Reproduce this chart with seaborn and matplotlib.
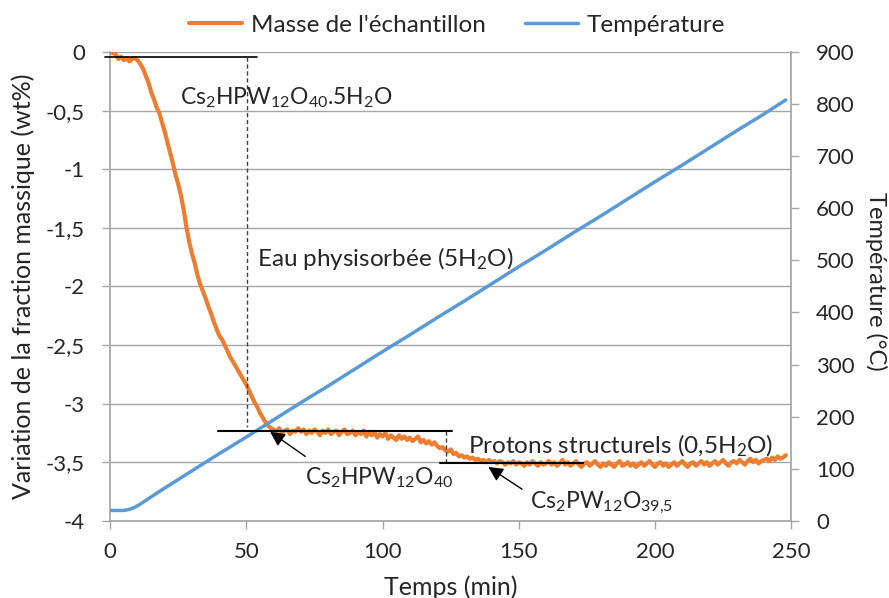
# Analyse thermogravimetrique - Cs2HPW12O40.5H2O
import numpy as np
import pandas as pd
import matplotlib
matplotlib.use("Agg")
import matplotlib.pyplot as plt
import seaborn as sns

# Donnees
temps_masse = list(range(0, 249))
masse = [
    0.00, -0.01, -0.02, -0.06, -0.04, -0.07, -0.05, -0.08, -0.06, -0.05,
    -0.07, -0.10, -0.14, -0.20, -0.26, -0.34, -0.40, -0.47, -0.52, -0.60,
    -0.68, -0.77, -0.86, -0.95, -1.05, -1.13, -1.23, -1.35, -1.50, -1.62,
    -1.72, -1.80, -1.90, -1.98, -2.04, -2.10, -2.17, -2.23, -2.30, -2.36,
    -2.42, -2.45, -2.50, -2.55, -2.60, -2.64, -2.68, -2.72, -2.76, -2.80,
    -2.84, -2.89, -2.94, -2.99, -3.03, -3.08, -3.12, -3.16, -3.19, -3.21,
    -3.22, -3.24, -3.21, -3.25, -3.23, -3.22, -3.26, -3.23, -3.24, -3.21,
    -3.24, -3.22, -3.26, -3.23, -3.25, -3.22, -3.24, -3.27, -3.23, -3.25,
    -3.22, -3.26, -3.24, -3.23, -3.27, -3.24, -3.22, -3.26, -3.25, -3.23,
    -3.27, -3.24, -3.26, -3.23, -3.28, -3.25, -3.27, -3.24, -3.29, -3.26,
    -3.28, -3.25, -3.30, -3.27, -3.29, -3.31, -3.27, -3.30, -3.28, -3.31,
    -3.29, -3.32, -3.30, -3.28, -3.33, -3.31, -3.34, -3.32, -3.35, -3.33,
    -3.36, -3.38, -3.37, -3.40, -3.41, -3.39, -3.43, -3.42, -3.45, -3.44,
    -3.46, -3.45, -3.47, -3.46, -3.48, -3.47, -3.49, -3.48, -3.50, -3.48,
    -3.50, -3.49, -3.51, -3.49, -3.50, -3.52, -3.50, -3.51, -3.49, -3.52,
    -3.50, -3.51, -3.53, -3.50, -3.52, -3.49, -3.51, -3.53, -3.50, -3.52,
    -3.51, -3.49, -3.52, -3.50, -3.53, -3.51, -3.48, -3.52, -3.50, -3.53,
    -3.51, -3.49, -3.52, -3.54, -3.51, -3.50, -3.53, -3.51, -3.49, -3.52,
    -3.54, -3.51, -3.53, -3.50, -3.52, -3.54, -3.51, -3.49, -3.53, -3.52,
    -3.50, -3.53, -3.51, -3.54, -3.52, -3.50, -3.53, -3.51, -3.49, -3.52,
    -3.54, -3.51, -3.50, -3.53, -3.51, -3.54, -3.52, -3.50, -3.53, -3.51,
    -3.49, -3.52, -3.54, -3.51, -3.50, -3.53, -3.51, -3.49, -3.52, -3.50,
    -3.53, -3.51, -3.49, -3.52, -3.50, -3.48, -3.51, -3.53, -3.50, -3.49,
    -3.51, -3.48, -3.50, -3.52, -3.49, -3.47, -3.50, -3.48, -3.51, -3.49,
    -3.48, -3.47, -3.49, -3.46, -3.48, -3.45, -3.47, -3.46, -3.44,
]

temps_temp = [0, 5, 7, 9, 11, 13, 15, 20, 30, 40, 50, 60, 70, 80, 90, 100,
              110, 120, 130, 140, 150, 160, 170, 180, 190, 200, 210, 220,
              230, 240, 248]
temperature = [20, 20, 22, 26, 32, 39, 46, 63, 96, 129, 161, 194, 227, 259,
               292, 325, 357, 390, 422, 455, 488, 520, 553, 585, 618, 651,
               683, 716, 749, 781, 808]

yticks_masse = [0, -0.5, -1, -1.5, -2, -2.5, -3, -3.5, -4]
ylabels_masse = ["0", "-0,5", "-1", "-1,5", "-2", "-2,5", "-3", "-3,5", "-4"]
xticks_temps = [0, 50, 100, 150, 200, 250]
yticks_temp = [0, 100, 200, 300, 400, 500, 600, 700, 800, 900]

df_masse = pd.DataFrame({"Temps": temps_masse, "Masse": masse})
df_temp = pd.DataFrame({"Temps": temps_temp, "Temperature": temperature})

sns.set_theme(style="white")
plt.rcParams["font.family"] = ["Lato", "DejaVu Sans"]
plt.rcParams["mathtext.fontset"] = "custom"
plt.rcParams["mathtext.rm"] = "Lato"
plt.rcParams["mathtext.it"] = "Lato"

orange = "#ED7D31"
bleu = "#5B9BD5"
gris = "#A6A6A6"
texte = "#262626"

fig, ax = plt.subplots(figsize=(8.89, 5.98), dpi=100)
fig.subplots_adjust(left=0.124, right=0.890, top=0.913, bottom=0.129)
ax2 = ax.twinx()

sns.lineplot(data=df_masse, x="Temps", y="Masse", ax=ax, color=orange,
             linewidth=3, label="Masse de l'échantillon", legend=False)
sns.lineplot(data=df_temp, x="Temps", y="Temperature", ax=ax2, color=bleu,
             linewidth=2.5, label="Température", legend=False)

ax.set_xlim(0, 250)
ax.set_ylim(-4, 0)
ax2.set_ylim(0, 900)
ax.set_xticks(xticks_temps)
ax.set_xticklabels([str(v) for v in xticks_temps])
ax.set_yticks(yticks_masse)
ax.set_yticklabels(ylabels_masse)
ax2.set_yticks(yticks_temp)
ax2.set_yticklabels([str(v) for v in yticks_temp])

ax.grid(axis="y", color=gris, linewidth=1)
ax.grid(axis="x", visible=False)
ax2.grid(False)

for a in (ax, ax2):
    for s in a.spines.values():
        s.set_visible(False)
    a.tick_params(colors=gris, labelcolor=texte, labelsize=16, length=6,
                  width=1, direction="out", pad=12)
ax.tick_params(axis="x", pad=9)
ax.spines["left"].set_visible(True)
ax.spines["bottom"].set_visible(True)
ax2.spines["right"].set_visible(True)
ax.spines["left"].set_color(gris)
ax.spines["bottom"].set_color(gris)
ax2.spines["right"].set_color(gris)
ax.tick_params(axis="x", bottom=True)
ax.tick_params(axis="y", left=True)
ax2.tick_params(axis="y", right=True)

ax.set_xlabel("Temps (min)", fontsize=18, color=texte)
ax.xaxis.set_label_coords(0.5, -0.116)
ax.set_ylabel("Variation de la fraction massique (wt%)", fontsize=18,
              color=texte)
ax.yaxis.set_label_coords(-0.110, 0.5)
ax2.set_ylabel("Température (°C)", fontsize=17, color=texte, rotation=270,
               ha="center", va="center")
ax2.yaxis.set_label_coords(1.124, 0.51)

# Annotations (dessinees au-dessus, en coordonnees de l'axe masse)
tr = ax.transData
kw = dict(transform=tr, clip_on=False)
ax2.plot([-2, 54], [-0.04, -0.04], color="black", lw=1.2, **kw)
ax2.plot([50.3, 50.3], [-0.04, -3.2], color="#404040", lw=1, ls=(0, (3, 2)), **kw)
ax2.plot([39.6, 125.5], [-3.23, -3.23], color="black", lw=1.5, **kw)
ax2.plot([123.3, 123.3], [-3.23, -3.51], color="#404040", lw=1, ls=(0, (3, 2)), **kw)
ax2.plot([121, 173.6], [-3.51, -3.51], color="black", lw=1.5, **kw)

ax2.text(25.7, -0.39, "Cs$_2$HPW$_{12}$O$_{40}$.5H$_2$O", transform=tr,
         fontsize=16.5, color=texte, va="center", ha="left")
ax2.text(54, -1.76, "Eau physisorbée (5H$_2$O)", transform=tr,
         fontsize=17.5, color=texte, va="center", ha="left")
ax2.text(131.4, -3.36, "Protons structurels (0,5H$_2$O)", transform=tr,
         fontsize=17.5, color=texte, va="center", ha="left")
ax2.text(71.6, -3.63, "Cs$_2$HPW$_{12}$O$_{40}$", transform=tr,
         fontsize=16.5, color=texte, va="center", ha="left")
ax2.text(154, -3.85, "Cs$_2$PW$_{12}$O$_{39{,}5}$", transform=tr,
         fontsize=16.5, color=texte, va="center", ha="left")

arrow = dict(arrowstyle="-|>", color="black", lw=1, mutation_scale=22,
             shrinkA=0, shrinkB=0)
ax2.annotate("", xy=(58.7, -3.24), xycoords=tr, xytext=(71.6, -3.45),
             textcoords=tr, arrowprops=arrow)
ax2.annotate("", xy=(138.8, -3.54), xycoords=tr, xytext=(151.2, -3.73),
             textcoords=tr, arrowprops=arrow)

h1, l1 = ax.get_legend_handles_labels()
h2, l2 = ax2.get_legend_handles_labels()
fig.legend(h1 + h2, l1 + l2, loc="center", bbox_to_anchor=(0.514, 0.958),
           ncol=2, frameon=False, fontsize=17.5, handlelength=2.2,
           handletextpad=0.35, columnspacing=1.6, labelcolor=texte)

fig.savefig("out.png", dpi=100)
